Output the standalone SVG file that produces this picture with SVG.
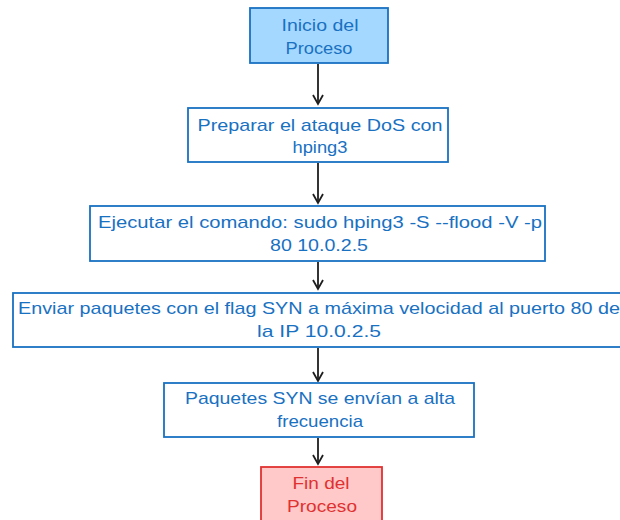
<svg xmlns="http://www.w3.org/2000/svg" width="620" height="520" viewBox="0 0 620 520">
<defs>
<style>
.box{fill:#ffffff;stroke:#1971c2;stroke-width:1.8}
.start{fill:#a5d8ff;stroke:#1971c2;stroke-width:1.8}
.end{fill:#ffc9c9;stroke:#e03131;stroke-width:1.8}
.t{font-family:"Liberation Sans",Arial,sans-serif;font-size:17px;fill:#1971c2;text-anchor:middle}
.tr{font-family:"Liberation Sans",Arial,sans-serif;font-size:17px;fill:#e03131;text-anchor:middle}
.c{stroke:#1e1e1e;stroke-width:1.8;fill:none}
</style>
<marker id="ah" viewBox="0 0 12 12" refX="10" refY="6" markerWidth="12" markerHeight="12" markerUnits="userSpaceOnUse" orient="auto">
<path d="M1,1 L10,6 L1,11" fill="none" stroke="#1e1e1e" stroke-width="1.8"/>
</marker>
</defs>
<rect width="620" height="520" fill="#ffffff"/>
<g id="connectors">
<line class="c" x1="318" y1="64" x2="318" y2="104" marker-end="url(#ah)"/>
<line class="c" x1="318" y1="163" x2="318" y2="203" marker-end="url(#ah)"/>
<line class="c" x1="318" y1="262" x2="318" y2="289" marker-end="url(#ah)"/>
<line class="c" x1="318" y1="348" x2="318" y2="381" marker-end="url(#ah)"/>
<line class="c" x1="318" y1="438" x2="318" y2="464" marker-end="url(#ah)"/>
</g>
<g id="n1">
<rect class="start" x="250" y="8" width="138" height="55"/>
<text class="t" x="320" y="31" textLength="77" lengthAdjust="spacingAndGlyphs">Inicio del</text>
<text class="t" x="319" y="54" textLength="67" lengthAdjust="spacingAndGlyphs">Proceso</text>
</g>
<g id="n2">
<rect class="box" x="188" y="108" width="260" height="54"/>
<text class="t" x="320" y="131" textLength="245" lengthAdjust="spacingAndGlyphs">Preparar el ataque DoS con</text>
<text class="t" x="320" y="153" textLength="55" lengthAdjust="spacingAndGlyphs">hping3</text>
</g>
<g id="n3">
<rect class="box" x="90" y="206" width="455" height="55"/>
<text class="t" x="320" y="228" textLength="444" lengthAdjust="spacingAndGlyphs">Ejecutar el comando: sudo hping3 -S --flood -V -p</text>
<text class="t" x="319" y="251" textLength="98" lengthAdjust="spacingAndGlyphs">80 10.0.2.5</text>
</g>
<g id="n4">
<rect class="box" x="13" y="293" width="615" height="54"/>
<text class="t" x="319" y="314" textLength="602" lengthAdjust="spacingAndGlyphs">Enviar paquetes con el flag SYN a máxima velocidad al puerto 80 de</text>
<text class="t" x="319" y="337" textLength="124" lengthAdjust="spacingAndGlyphs">la IP 10.0.2.5</text>
</g>
<g id="n5">
<rect class="box" x="164" y="383" width="310" height="54"/>
<text class="t" x="320" y="404" textLength="270" lengthAdjust="spacingAndGlyphs">Paquetes SYN se envían a alta</text>
<text class="t" x="320" y="427" textLength="86" lengthAdjust="spacingAndGlyphs">frecuencia</text>
</g>
<g id="n6">
<rect class="end" x="261" y="467" width="121" height="58"/>
<text class="tr" x="321" y="489" textLength="57" lengthAdjust="spacingAndGlyphs">Fin del</text>
<text class="tr" x="322" y="512" textLength="70" lengthAdjust="spacingAndGlyphs">Proceso</text>
</g>
</svg>
